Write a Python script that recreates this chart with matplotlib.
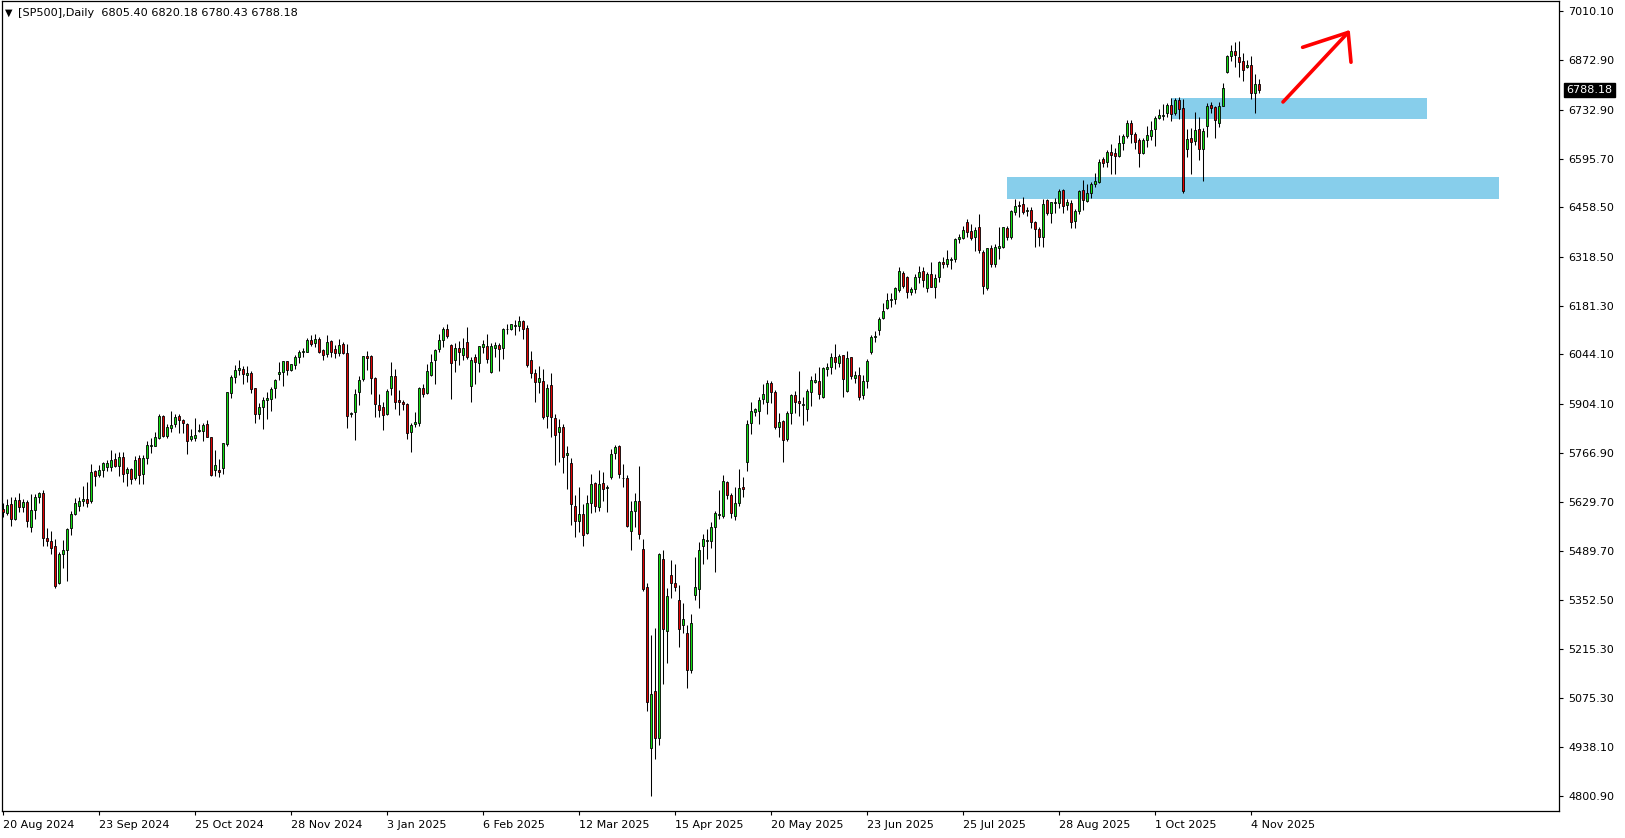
import numpy as np
import matplotlib.pyplot as plt
import matplotlib as mpl
from matplotlib.patches import Rectangle

mpl.rcParams['font.family'] = 'DejaVu Sans'

# daily bars, [SP500] 20 Aug 2024 .. 6 Nov 2025
opens = [5608, 5597, 5622, 5580, 5634, 5614, 5629, 5559, 5606, 5642, 5653, 5527, 5519, 5505, 5401, 5481,
         5493, 5554, 5594, 5618, 5630, 5636, 5630, 5716, 5704, 5718, 5728, 5728, 5749, 5730, 5754, 5709,
         5722, 5697, 5752, 5707, 5752, 5785, 5786, 5808, 5871, 5815, 5838, 5847, 5871, 5859, 5847, 5805,
         5808, 5829, 5829, 5847, 5812, 5718, 5719, 5723, 5792, 5935, 5980, 6000, 6002, 5985, 5992, 5949,
         5875, 5895, 5915, 5918, 5949, 5988, 5994, 6025, 5999, 6014, 6036, 6050, 6052, 6084, 6075, 6087,
         6057, 6044, 6081, 6059, 6047, 6074, 6048, 5875, 5881, 5937, 5974, 6039, 6040, 5978, 5902, 5895,
         5875, 5949, 5982, 5916, 5910, 5904, 5825, 5849, 5850, 5949, 5935, 5987, 6028, 6059, 6084, 6115,
         6071, 6028, 6061, 6042, 6078, 5955, 6038, 6019, 6064, 6067, 5996, 6063, 6070, 6061, 6115, 6116,
         6125, 6125, 6138, 6118, 6028, 5991, 5967, 5969, 5872, 5957, 5864, 5825, 5840, 5760, 5738, 5616,
         5576, 5595, 5540, 5625, 5683, 5615, 5682, 5667, 5698, 5766, 5786, 5696, 5696, 5546, 5602, 5631,
         5496, 5389, 4935, 5096, 4965, 5467, 5266, 5422, 5400, 5352, 5282, 5259, 5155, 5367, 5383, 5505,
         5520, 5520, 5557, 5591, 5589, 5684, 5648, 5590, 5625, 5671, 5742, 5850, 5883, 5886, 5918, 5909,
         5963, 5937, 5841, 5858, 5807, 5878, 5929, 5913, 5903, 5890, 5939, 5967, 5969, 5925, 6003, 6009,
         6036, 6019, 6042, 5942, 6036, 5977, 5985, 5930, 5970, 6050, 6092, 6112, 6146, 6174, 6197, 6199,
         6226, 6274, 6261, 6219, 6227, 6261, 6280, 6230, 6270, 6235, 6261, 6304, 6298, 6311, 6312, 6368,
         6371, 6416, 6392, 6374, 6404, 6332, 6230, 6343, 6299, 6345, 6348, 6399, 6374, 6446, 6466, 6467,
         6448, 6451, 6417, 6397, 6376, 6479, 6443, 6470, 6470, 6507, 6465, 6470, 6420, 6448, 6506, 6477,
         6498, 6524, 6531, 6594, 6585, 6613, 6610, 6604, 6639, 6659, 6695, 6664, 6648, 6610, 6648, 6660,
         6678, 6709, 6715, 6723, 6747, 6723, 6761, 6737, 6622, 6655, 6645, 6679, 6622, 6688, 6747, 6740,
         6697, 6745, 6840, 6885, 6898, 6882, 6870, 6853, 6859, 6781, 6805.40]
highs = [5625, 5636, 5644, 5644, 5653, 5636, 5634, 5650, 5650, 5657, 5661, 5555, 5547, 5523, 5488, 5522,
         5554, 5602, 5639, 5643, 5674, 5686, 5735, 5719, 5733, 5741, 5747, 5774, 5766, 5768, 5768, 5728,
         5724, 5758, 5760, 5760, 5799, 5810, 5825, 5875, 5873, 5848, 5885, 5875, 5875, 5863, 5850, 5835,
         5864, 5848, 5852, 5860, 5813, 5775, 5749, 5794, 5938, 5985, 6014, 6028, 6012, 6012, 5998, 5950,
         5908, 5925, 5937, 5952, 5976, 6023, 6025, 6027, 6017, 6043, 6057, 6063, 6089, 6098, 6102, 6094,
         6059, 6099, 6086, 6071, 6087, 6079, 6074, 5883, 5946, 5983, 6040, 6054, 6043, 5981, 5932, 5910,
         5947, 6023, 6003, 5944, 5916, 5906, 5850, 5882, 5951, 5960, 6017, 6045, 6059, 6101, 6121, 6130,
         6074, 6076, 6081, 6090, 6120, 6036, 6045, 6069, 6085, 6102, 6076, 6078, 6077, 6119, 6130, 6130,
         6141, 6151, 6141, 6127, 6054, 6002, 6012, 6003, 5961, 5991, 5876, 5862, 5848, 5787, 5752, 5648,
         5672, 5622, 5648, 5708, 5686, 5719, 5713, 5676, 5777, 5790, 5790, 5736, 5705, 5632, 5655, 5730,
         5524, 5400, 5254, 5275, 5486, 5493, 5385, 5465, 5453, 5395, 5343, 5282, 5313, 5473, 5515, 5538,
         5553, 5573, 5603, 5662, 5705, 5689, 5653, 5670, 5721, 5700, 5860, 5911, 5894, 5925, 5961, 5972,
         5970, 5944, 5878, 5860, 5885, 5933, 5941, 5997, 5923, 5946, 5983, 5993, 6009, 6010, 6019, 6047,
         6074, 6045, 6043, 6054, 6038, 5998, 6010, 5985, 6030, 6100, 6110, 6149, 6190, 6218, 6216, 6235,
         6289, 6279, 6266, 6233, 6271, 6293, 6291, 6277, 6304, 6270, 6307, 6319, 6338, 6318, 6372, 6383,
         6406, 6426, 6411, 6402, 6439, 6338, 6345, 6352, 6355, 6402, 6404, 6406, 6451, 6481, 6476, 6488,
         6458, 6458, 6421, 6402, 6481, 6481, 6474, 6484, 6510, 6509, 6481, 6478, 6455, 6507, 6535, 6524,
         6531, 6556, 6594, 6601, 6620, 6637, 6625, 6662, 6664, 6704, 6704, 6671, 6653, 6653, 6686, 6701,
         6716, 6735, 6749, 6753, 6765, 6765, 6769, 6763, 6678, 6683, 6726, 6712, 6681, 6753, 6755, 6744,
         6755, 6808, 6887, 6916, 6924, 6927, 6892, 6873, 6885, 6834, 6820.18]
lows = [5585, 5593, 5562, 5578, 5601, 5600, 5559, 5545, 5582, 5625, 5506, 5506, 5481, 5387, 5398, 5442,
        5406, 5537, 5592, 5604, 5617, 5615, 5627, 5675, 5700, 5700, 5717, 5716, 5728, 5702, 5684, 5675,
        5679, 5691, 5679, 5679, 5735, 5766, 5786, 5805, 5811, 5808, 5827, 5839, 5822, 5822, 5763, 5799,
        5801, 5825, 5801, 5811, 5703, 5702, 5698, 5707, 5787, 5922, 5963, 5986, 5960, 5967, 5936, 5852,
        5861, 5833, 5861, 5884, 5922, 5972, 5956, 5985, 5998, 6002, 6021, 6036, 6050, 6069, 6066, 6049,
        6028, 6036, 6036, 6035, 6040, 6045, 5838, 5867, 5802, 5902, 5968, 6001, 5932, 5869, 5869, 5832,
        5873, 5930, 5891, 5874, 5888, 5807, 5770, 5841, 5843, 5925, 5933, 5983, 5960, 6052, 6066, 6089,
        5918, 5994, 6013, 6028, 6030, 5909, 5962, 5996, 6047, 6021, 5993, 6038, 5998, 6031, 6102, 6114,
        6100, 6111, 6087, 6010, 5979, 5909, 5935, 5861, 5838, 5813, 5734, 5742, 5711, 5666, 5565, 5529,
        5544, 5506, 5538, 5597, 5599, 5604, 5630, 5601, 5692, 5751, 5695, 5672, 5559, 5492, 5559, 5524,
        5379, 5041, 4802, 4905, 4945, 5115, 5174, 5357, 5379, 5221, 5259, 5104, 5146, 5353, 5329, 5453,
        5468, 5498, 5432, 5580, 5583, 5636, 5584, 5578, 5618, 5644, 5717, 5819, 5872, 5848, 5905, 5875,
        5906, 5833, 5813, 5741, 5801, 5848, 5878, 5871, 5844, 5858, 5899, 5965, 5919, 5922, 5984, 5988,
        6002, 6008, 5925, 5939, 5974, 5963, 5916, 5920, 5950, 6045, 6080, 6100, 6143, 6171, 6179, 6186,
        6221, 6230, 6202, 6211, 6216, 6244, 6235, 6219, 6233, 6202, 6249, 6287, 6291, 6284, 6305, 6357,
        6368, 6376, 6365, 6334, 6329, 6214, 6226, 6291, 6291, 6312, 6343, 6365, 6368, 6437, 6432, 6439,
        6434, 6399, 6346, 6350, 6348, 6437, 6415, 6443, 6457, 6442, 6451, 6400, 6400, 6440, 6451, 6474,
        6484, 6517, 6528, 6571, 6571, 6552, 6552, 6599, 6620, 6653, 6639, 6623, 6573, 6609, 6629, 6648,
        6632, 6706, 6704, 6714, 6701, 6717, 6706, 6498, 6601, 6552, 6634, 6592, 6533, 6657, 6725, 6655,
        6684, 6743, 6836, 6871, 6854, 6824, 6815, 6850, 6763, 6725, 6780.43]
closes = [5600, 5619, 5580, 5634, 5614, 5629, 5576, 5606, 5644, 5653, 5526, 5518, 5500, 5393, 5482, 5493,
          5553, 5594, 5625, 5631, 5636, 5627, 5713, 5701, 5718, 5738, 5739, 5746, 5731, 5754, 5708, 5721,
          5693, 5747, 5704, 5752, 5788, 5789, 5811, 5871, 5815, 5841, 5845, 5867, 5859, 5850, 5801, 5814,
          5817, 5831, 5845, 5813, 5706, 5733, 5714, 5794, 5937, 5980, 5999, 6006, 5989, 5992, 5946, 5875,
          5895, 5915, 5921, 5946, 5971, 5994, 6025, 5999, 6016, 6036, 6050, 6055, 6084, 6074, 6087, 6052,
          6042, 6078, 6052, 6047, 6071, 6047, 5870, 5878, 5932, 5972, 6040, 6035, 5977, 5904, 5888, 5873,
          5941, 5982, 5909, 5911, 5904, 5822, 5844, 5853, 5949, 5932, 5998, 6022, 6057, 6084, 6115, 6097,
          6019, 6061, 6050, 6063, 6036, 6028, 6022, 6067, 6074, 6030, 6067, 6071, 6059, 6116, 6117, 6129,
          6127, 6138, 6115, 6013, 5991, 5966, 5977, 5869, 5949, 5867, 5816, 5839, 5756, 5766, 5622, 5574,
          5594, 5535, 5625, 5679, 5617, 5679, 5664, 5670, 5764, 5783, 5707, 5695, 5561, 5604, 5630, 5538,
          5384, 5066, 5087, 4965, 5481, 5270, 5364, 5401, 5390, 5270, 5298, 5155, 5287, 5388, 5493, 5525,
          5522, 5559, 5598, 5595, 5689, 5649, 5597, 5627, 5667, 5664, 5847, 5885, 5890, 5916, 5932, 5963,
          5937, 5841, 5853, 5803, 5878, 5929, 5911, 5906, 5905, 5941, 5972, 5972, 5932, 6005, 6009, 6036,
          6024, 6040, 5974, 6033, 5984, 5986, 5925, 5970, 6025, 6092, 6095, 6145, 6167, 6197, 6199, 6230,
          6278, 6237, 6219, 6227, 6261, 6277, 6254, 6270, 6233, 6258, 6304, 6298, 6312, 6313, 6369, 6374,
          6395, 6390, 6371, 6395, 6338, 6237, 6343, 6298, 6346, 6350, 6402, 6374, 6448, 6462, 6462, 6446,
          6450, 6416, 6396, 6374, 6468, 6443, 6472, 6472, 6504, 6463, 6472, 6416, 6448, 6504, 6479, 6500,
          6524, 6533, 6585, 6584, 6613, 6606, 6604, 6639, 6659, 6695, 6664, 6643, 6610, 6648, 6661, 6676,
          6709, 6718, 6717, 6747, 6720, 6761, 6734, 6504, 6650, 6643, 6676, 6622, 6673, 6744, 6737, 6704,
          6744, 6793, 6885, 6898, 6888, 6867, 6844, 6859, 6781, 6806, 6788.18]

date_pos = [0, 24, 48, 72, 96, 120, 144, 168, 192, 216, 240, 264, 288, 312]
date_labels = ['20 Aug 2024', '23 Sep 2024', '25 Oct 2024', '28 Nov 2024', '3 Jan 2025', '6 Feb 2025',
               '12 Mar 2025', '15 Apr 2025', '20 May 2025', '23 Jun 2025', '25 Jul 2025', '28 Aug 2025',
               '1 Oct 2025', '4 Nov 2025']
price_ticks = [7010.10, 6872.90, 6732.90, 6595.70, 6458.50, 6318.50, 6181.30, 6044.10, 5904.10, 5766.90,
               5629.70, 5489.70, 5352.50, 5215.30, 5075.30, 4938.10, 4800.90]

# support zones (bar index range, price range)
zone_bars = [(292, 356), (251, 374)]
zone_prices = [(6707, 6766), (6481, 6544)]

o = np.array(opens, float)
h = np.array(highs, float)
l = np.array(lows, float)
c = np.array(closes, float)
x = np.arange(len(c))
up = c >= o

fig = plt.figure(figsize=(16.25, 8.38), dpi=100)
ax = fig.add_axes([2/1625, 27/838, 1557/1625, 810/838])

for (b0, b1), (p0, p1) in zip(zone_bars, zone_prices):
    ax.add_patch(Rectangle((b0, p0), b1 - b0, p1 - p0, facecolor='#87CEEB', edgecolor='none', zorder=0))

ax.vlines(x, l, h, color='black', lw=0.75, zorder=2)
ax.bar(x[up], c[up] - o[up], bottom=o[up], width=0.7, color='#11dd11', edgecolor='black', lw=0.6, zorder=3)
ax.bar(x[~up], c[~up] - o[~up], bottom=o[~up], width=0.7, color='#e00000', edgecolor='black', lw=0.6, zorder=3)

# hand drawn arrow
ax.plot([320, 336.3], [6755, 6951], color='red', lw=2.6, solid_capstyle='round', zorder=4)
ax.plot([324.9, 336.3, 337], [6909, 6951, 6867], color='red', lw=2.6, solid_capstyle='round',
        solid_joinstyle='round', zorder=4)

ax.set_xlim(-0.25, 389)
ax.set_ylim(4758.4, 7039.4)

ax.set_xticks(date_pos)
ax.set_xticklabels(date_labels, ha='left', fontsize=8)
ax.set_yticks(price_ticks)
ax.set_yticklabels([f'{p:.2f}' for p in price_ticks], fontsize=8)
ax.yaxis.tick_right()
ax.tick_params(axis='x', direction='out', length=3, width=0.8, pad=3.5)
ax.tick_params(axis='y', direction='out', length=3, width=0.8, pad=3.5)
for s in ax.spines.values():
    s.set_linewidth(0.9)

ax.annotate(f'{closes[-1]:.2f}', xy=(1.0, closes[-1]), xycoords=('axes fraction', 'data'),
            xytext=(5.5, 0), textcoords='offset points', va='center', ha='left', fontsize=8,
            color='white', bbox=dict(boxstyle='square,pad=0.2', fc='black', ec='black'))

fig.text(5/1625, 1 - 13/838, '\u25bc', fontsize=7, va='center', ha='left')
fig.text(18/1625, 1 - 12.5/838, '[SP500],Daily  6805.40 6820.18 6780.43 6788.18', fontsize=8.1,
         va='center', ha='left')

fig.savefig('out.png', dpi=100)
